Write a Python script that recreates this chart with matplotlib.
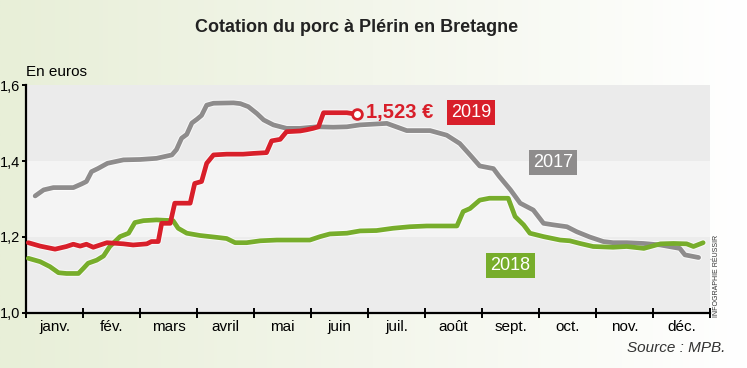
import numpy as np
import matplotlib.pyplot as plt
from matplotlib.colors import LinearSegmentedColormap

plt.rcParams['font.family'] = ['Liberation Sans', 'DejaVu Sans']

# --- données (mois en fraction de l'année, 0 = 1er janvier)
mois = ['janv.', 'fév.', 'mars', 'avril', 'mai', 'juin', 'juil.', 'août',
        'sept.', 'oct.', 'nov.', 'déc.']

x_2017 = [0.16, 0.31, 0.48, 0.83, 0.98, 1.06, 1.15, 1.26, 1.43, 1.71, 2.0, 2.29,
          2.56, 2.64, 2.73, 2.82, 2.91, 3.0, 3.08, 3.17, 3.29, 3.64, 3.76, 3.9,
          4.05, 4.17, 4.34, 4.57, 4.81, 5.1, 5.39, 5.63, 5.86, 6.33, 6.68, 7.09,
          7.38, 7.61, 7.79, 7.96, 8.2, 8.3, 8.5, 8.67, 8.9, 9.08, 9.25, 9.49,
          9.66, 9.89, 10.13, 10.3, 10.54, 10.83, 11.13, 11.47, 11.56, 11.8]
y_2017 = [1.308, 1.324, 1.33, 1.33, 1.34, 1.346, 1.372, 1.38, 1.394, 1.403, 1.404, 1.407,
          1.416, 1.43, 1.46, 1.47, 1.5, 1.51, 1.52, 1.547, 1.552, 1.553, 1.551, 1.543,
          1.525, 1.508, 1.495, 1.486, 1.486, 1.49, 1.489, 1.49, 1.495, 1.499, 1.48, 1.48,
          1.468, 1.446, 1.416, 1.387, 1.38, 1.36, 1.324, 1.289, 1.271, 1.236, 1.232, 1.227,
          1.214, 1.2, 1.188, 1.185, 1.185, 1.183, 1.179, 1.17, 1.153, 1.146]

x_2018 = [0.04, 0.25, 0.42, 0.57, 0.71, 0.92, 1.01, 1.09, 1.24, 1.36, 1.47, 1.65,
          1.8, 1.91, 2.06, 2.29, 2.58, 2.67, 2.82, 3.05, 3.35, 3.52, 3.67, 3.87,
          4.11, 4.4, 4.69, 4.98, 5.16, 5.33, 5.63, 5.86, 6.15, 6.44, 6.73, 7.03,
          7.56, 7.67, 7.79, 7.96, 8.13, 8.46, 8.58, 8.73, 8.84, 9.08, 9.37, 9.54,
          9.72, 9.95, 10.3, 10.54, 10.84, 11.13, 11.36, 11.59, 11.71, 11.88]
y_2018 = [1.144, 1.135, 1.122, 1.106, 1.104, 1.104, 1.118, 1.131, 1.139, 1.15, 1.175, 1.201,
          1.21, 1.238, 1.243, 1.245, 1.243, 1.223, 1.21, 1.204, 1.199, 1.196, 1.185, 1.185,
          1.19, 1.192, 1.192, 1.192, 1.201, 1.208, 1.21, 1.216, 1.217, 1.223, 1.227, 1.229,
          1.229, 1.267, 1.275, 1.297, 1.302, 1.302, 1.254, 1.232, 1.21, 1.201, 1.192, 1.19,
          1.183, 1.175, 1.173, 1.175, 1.17, 1.182, 1.183, 1.182, 1.175, 1.185]

x_2019 = [0.04, 0.25, 0.51, 0.71, 0.83, 0.95, 1.06, 1.18, 1.42, 1.71, 1.88, 2.12,
          2.2, 2.32, 2.38, 2.53, 2.61, 2.88, 2.96, 3.08, 3.17, 3.29, 3.52, 3.81,
          3.99, 4.22, 4.31, 4.46, 4.57, 4.81, 4.92, 5.04, 5.13, 5.22, 5.39, 5.63, 5.8]
y_2019 = [1.185, 1.176, 1.168, 1.175, 1.181, 1.176, 1.181, 1.173, 1.185, 1.182, 1.179, 1.182,
          1.188, 1.188, 1.236, 1.236, 1.289, 1.289, 1.341, 1.346, 1.394, 1.416, 1.418, 1.418,
          1.42, 1.422, 1.453, 1.457, 1.477, 1.479, 1.482, 1.486, 1.49, 1.527, 1.527, 1.527, 1.523]

gris = '#8e8c8c'
vert = '#77ad2b'
rouge = '#d81f2a'

fig = plt.figure(figsize=(7.47, 3.68), dpi=100)

# fond dégradé vert clair -> blanc
bg = fig.add_axes([0, 0, 1, 1], zorder=-10)
grad = np.linspace(0, 1, 256).reshape(1, -1)
cmap_bg = LinearSegmentedColormap.from_list('bg', ['#e8efd8', '#f3f6eb', '#ffffff'])
bg.imshow(grad, aspect='auto', cmap=cmap_bg, extent=[0, 1, 0, 1])
bg.axis('off')

ax = fig.add_axes([26 / 747, 1 - 313 / 368, 684 / 747, 228 / 368])
ax.set_xlim(0, 12)
ax.set_ylim(1.0, 1.6)
ax.patch.set_alpha(0)
ax.axhspan(1.0, 1.2, color='#ececec', zorder=0, lw=0)
ax.axhspan(1.2, 1.4, color='#f4f4f4', zorder=0, lw=0)
ax.axhspan(1.4, 1.6, color='#ebebeb', zorder=0, lw=0)

for xs, ys, c in [(x_2017, y_2017, gris), (x_2018, y_2018, vert), (x_2019, y_2019, rouge)]:
    ax.plot(xs, ys, color='white', lw=4.8, solid_capstyle='round', zorder=2, alpha=0.7)
    ax.plot(xs, ys, color=c, lw=3.4, solid_capstyle='round', zorder=3)

ax.plot(x_2019[-1], y_2019[-1], 'o', ms=7, mfc='white', mec=rouge, mew=2, zorder=4)

ax.text(5.97, 1.527, '1,523 €', color=rouge, fontsize=14.5, fontweight='bold',
        va='center', ha='left')
ax.text(7.45, 1.527, '2019', color='white', fontsize=13, va='center', ha='left',
        bbox=dict(boxstyle='square,pad=0.22', fc=rouge, ec='none'))
ax.text(9.25, 1.395, '2017', color='white', fontsize=13, va='center', ha='center',
        bbox=dict(boxstyle='square,pad=0.22', fc=gris, ec='none'))
ax.text(8.5, 1.124, '2018', color='white', fontsize=13, va='center', ha='center',
        bbox=dict(boxstyle='square,pad=0.22', fc=vert, ec='none'))

for s in ['top', 'right']:
    ax.spines[s].set_visible(False)
ax.spines['left'].set_linewidth(1.6)
ax.spines['bottom'].set_linewidth(1.6)

ax.set_yticks([1.0, 1.2, 1.4, 1.6])
ax.set_yticklabels(['1,0', '1,2', '1,4', '1,6'], fontsize=10.5)
ax.tick_params(axis='y', length=3, width=1.4, pad=1.5)
ax.set_xticks(np.arange(13))
ax.set_xticklabels([])
ax.tick_params(axis='x', which='major', direction='inout', length=7, width=1.4)
ax.set_xticks(np.arange(12) + 0.5, minor=True)
ax.set_xticklabels(mois, minor=True, fontsize=11)
ax.tick_params(axis='x', which='minor', length=0, pad=5)

fig.text(26 / 747, 1 - 72 / 368, 'En euros', fontsize=11, ha='left', va='center')
fig.text(357 / 747, 1 - 28 / 368, 'Cotation du porc à Plérin en Bretagne',
         fontsize=13, fontweight='bold', ha='center', va='center', color='#222222')
fig.text(725 / 747, 1 - 348 / 368, 'Source : MPB.', fontsize=11, style='italic',
         ha='right', va='center', color='#333333')
fig.text(716 / 747, 1 - 276 / 368, 'INFOGRAPHIE RÉUSSIR', fontsize=5, rotation=90,
         ha='center', va='center', color='#333333')

fig.savefig('out.png', dpi=100)
